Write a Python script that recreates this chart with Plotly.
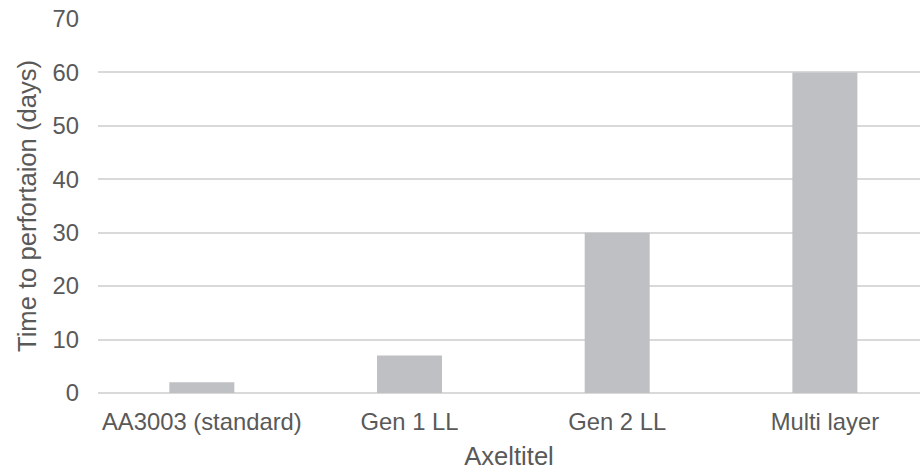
import plotly.graph_objects as go

# Chart data
categories = ["AA3003 (standard)", "Gen 1 LL", "Gen 2 LL", "Multi layer"]
days_to_perforation = [2, 7, 30, 60]
y_ticks = [0, 10, 20, 30, 40, 50, 60, 70]

TEXT = "#595959"
GRID = "#D9D9D9"
BAR = "#BFC0C4"
FONT = "Liberation Sans, Arial, sans-serif"
TICK_SIZE = 23.8
TITLE_SIZE = 25.6

fig = go.Figure(
    go.Bar(
        x=list(range(len(categories))),
        y=days_to_perforation,
        width=0.313,
        marker=dict(color=BAR, line=dict(width=0)),
        hoverinfo="skip",
    )
)

fig.update_layout(
    width=920,
    height=470,
    margin=dict(l=98, r=0, t=19, b=77),
    paper_bgcolor="white",
    plot_bgcolor="white",
    showlegend=False,
    font=dict(family=FONT, size=TICK_SIZE, color=TEXT),
)

fig.update_xaxes(
    tickmode="array",
    tickvals=list(range(len(categories))),
    ticktext=categories,
    range=[-0.5, 3.458],
    showgrid=False,
    zeroline=False,
    showline=False,
    ticks="",
    ticklabelstandoff=12,
    tickfont=dict(size=TICK_SIZE, color=TEXT),
    title=dict(text="Axeltitel", font=dict(size=TITLE_SIZE, color=TEXT), standoff=14),
)

fig.update_yaxes(
    range=[0, 70],
    tickmode="array",
    tickvals=y_ticks,
    showgrid=True,
    gridcolor=GRID,
    gridwidth=1.5,
    zeroline=True,
    zerolinecolor=GRID,
    zerolinewidth=1.5,
    showline=False,
    ticks="",
    ticklabelstandoff=18,
    tickfont=dict(size=TICK_SIZE, color=TEXT),
    title=dict(text="Time to perfortaion (days)", font=dict(size=TITLE_SIZE, color=TEXT), standoff=8),
)

fig.write_html("out.html")
